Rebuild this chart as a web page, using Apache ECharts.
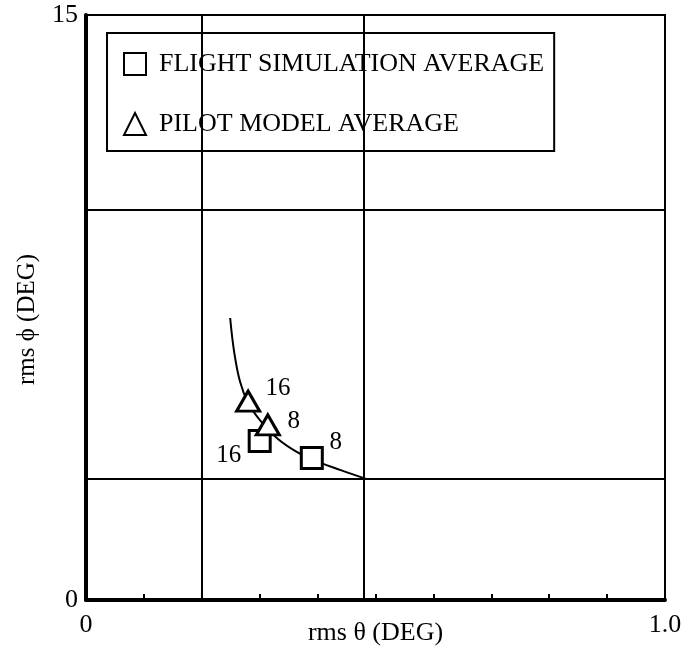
<!DOCTYPE html>
<html lang="en">
<head>
    <meta charset="UTF-8">
    <title>rms phi vs rms theta</title>
    <script src="https://cdn.jsdelivr.net/npm/echarts@6/dist/echarts.min.js"></script>
    <style>
        body { margin: 0; background: #fff; }
        #main { width: 684px; height: 652px; }
    </style>
</head>
<body>
<div id="main"></div>
<script>
    // averages, [rms theta, rms phi, label]
    var flightSim = [[0.300, 4.08, '16'], [0.390, 3.64, '8']];
    var pilotModel = [[0.280, 5.10, '16'], [0.314, 4.49, '8']];
    // trend curve
    var curveX = [0.249, 0.256, 0.266, 0.280, 0.300, 0.330, 0.364, 0.400, 0.440, 0.485];
    var curveY = [7.23, 6.35, 5.60, 5.05, 4.62, 4.15, 3.80, 3.55, 3.33, 3.10];
    // reference lines
    var refX = [0.2, 0.485];
    var refY = [3.1, 10];

    var serif = 'Liberation Serif';
    var chart = echarts.init(document.getElementById('main'));

    var curve = curveX.map(function (x, i) { return [x, curveY[i]]; });
    var labelOffsets = {
        flight: [[-31, 15], [24, -16]],
        pilot: [[30, -13], [26, -3]]
    };

    function pts(arr, key) {
        return arr.map(function (p, i) {
            return {
                value: [p[0], p[1]],
                label: {show: true, formatter: p[2], position: 'inside', offset: labelOffsets[key][i]}
            };
        });
    }

    var lineData = [];
    refX.forEach(function (v) { lineData.push({xAxis: v}); });
    refY.forEach(function (v) { lineData.push({yAxis: v}); });

    chart.setOption({
        animation: false,
        backgroundColor: '#fff',
        grid: {
            left: 86, right: 19, top: 15, bottom: 52,
            containLabel: false, outerBoundsMode: 'none',
            show: true, borderColor: '#000', borderWidth: 2
        },
        legend: {
            orient: 'vertical',
            left: 107, top: 33,
            padding: [18, 10, 14, 16],
            itemGap: 34,
            itemWidth: 22, itemHeight: 22,
            backgroundColor: '#fff',
            borderColor: '#000', borderWidth: 2,
            textStyle: {fontFamily: serif, fontSize: 26, color: '#000', padding: [0, 0, 0, 8]},
            data: [
                {name: 'FLIGHT SIMULATION AVERAGE', icon: 'rect'},
                {name: 'PILOT MODEL AVERAGE', icon: 'triangle'}
            ]
        },
        xAxis: {
            type: 'value', min: 0, max: 1, interval: 0.1,
            name: 'rms θ (DEG)', nameLocation: 'middle', nameGap: 20,
            nameMoveOverlap: false,
            nameTextStyle: {fontFamily: serif, fontSize: 26, color: '#000'},
            axisLine: {lineStyle: {color: '#000', width: 4}},
            axisTick: {inside: true, length: 6, lineStyle: {color: '#000', width: 2}},
            axisLabel: {
                margin: 12, fontFamily: serif, fontSize: 26, color: '#000',
                formatter: function (v) { return v === 0 ? '0' : (v === 1 ? '1.0' : ''); }
            },
            splitLine: {show: false}
        },
        yAxis: {
            type: 'value', min: 0, max: 15, interval: 15,
            name: 'rms ϕ (DEG)', nameLocation: 'middle', nameGap: 46,
            nameMoveOverlap: false,
            nameTextStyle: {fontFamily: serif, fontSize: 25, color: '#000', padding: [0, 24, 0, 0]},
            axisLine: {show: true, lineStyle: {color: '#000', width: 4}},
            axisTick: {show: false},
            axisLabel: {margin: 8, fontFamily: serif, fontSize: 26, color: '#000'},
            splitLine: {show: false}
        },
        series: [
            {
                name: 'curve', type: 'line', data: curve, smooth: 0.4,
                showSymbol: false, silent: true,
                lineStyle: {color: '#000', width: 2},
                markLine: {
                    silent: true, symbol: 'none',
                    label: {show: false},
                    lineStyle: {color: '#000', width: 2, type: 'solid'},
                    data: lineData
                }
            },
            {
                name: 'FLIGHT SIMULATION AVERAGE', type: 'scatter',
                symbol: 'rect', symbolSize: 21,
                itemStyle: {color: '#fff', borderColor: '#000', borderWidth: 3, opacity: 1},
                label: {fontFamily: serif, fontSize: 25, color: '#000'},
                data: pts(flightSim, 'flight'), z: 5
            },
            {
                name: 'PILOT MODEL AVERAGE', type: 'scatter',
                symbol: 'triangle', symbolSize: [23, 20],
                itemStyle: {color: '#fff', borderColor: '#000', borderWidth: 3, opacity: 1},
                label: {fontFamily: serif, fontSize: 25, color: '#000'},
                data: pts(pilotModel, 'pilot'), z: 6
            }
        ]
    });
</script>
</body>
</html>
